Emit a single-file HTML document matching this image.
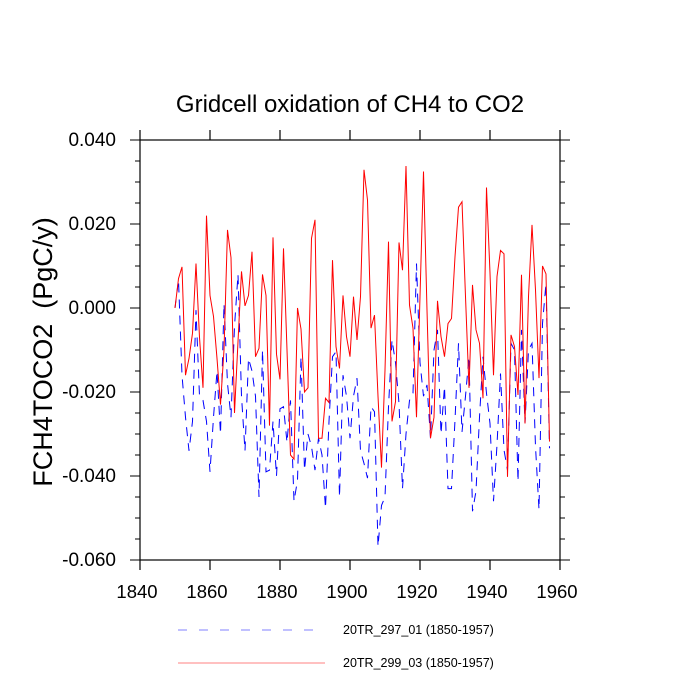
<!DOCTYPE html>
<html><head><meta charset="utf-8"><style>
body{margin:0;background:#fff;}
svg{display:block;font-family:"Liberation Sans",sans-serif;}
</style></head><body>
<svg id="chart" width="700" height="700" xmlns="http://www.w3.org/2000/svg">
<text x="350" y="112" font-size="24" text-anchor="middle">Gridcell oxidation of CH4 to CO2</text>
<text transform="translate(52,352) rotate(-90)" font-size="27" text-anchor="middle" style="white-space:pre">FCH4TOCO2  (PgC/y)</text>
<g id="axes"></g>
<g id="series"></g>
<g>
<line x1="178" y1="630" x2="318" y2="630" stroke="#8080ff" stroke-width="1" stroke-dasharray="9,12"/>
<text x="343" y="634" font-size="12.5">20TR_297_01 (1850-1957)</text>
<line x1="178" y1="663" x2="325" y2="663" stroke="#ff8080" stroke-width="1"/>
<text x="343" y="667" font-size="12.5">20TR_299_03 (1850-1957)</text>
</g>
</svg>
<script>
const startYear = 1850;
const seriesRed = [0,0.007,0.0098,-0.016,-0.012,-0.006,0.0106,-0.007,-0.019,0.022,0.003,-0.002,-0.012,-0.023,-0.01,0.0186,0.012,-0.025,-0.008,0.0087,0.0005,0.003,0.0134,-0.0116,-0.0096,0.008,0.003,-0.028,0.0168,-0.011,-0.017,0.0142,-0.01,-0.035,-0.036,0,-0.005,-0.02,-0.019,0.0166,0.021,-0.031,-0.031,-0.0215,-0.0225,0.0114,-0.0092,-0.0144,0.003,-0.0068,-0.0116,0.0027,-0.0076,0.0027,0.0329,0.0257,-0.0048,-0.0017,-0.021,-0.038,-0.0148,0.0158,-0.027,-0.0223,0.0156,0.009,0.0338,0.0007,-0.0048,-0.026,0.0027,0.0325,-0.0005,-0.031,-0.026,0.0017,-0.0068,-0.0116,-0.0037,-0.0025,0.0122,0.024,0.0253,0.0027,-0.019,0.0055,-0.0052,-0.0084,-0.0215,0.0287,0.0083,-0.016,0.0075,0.0137,0.0129,-0.0402,-0.0064,-0.0092,-0.0207,0.0079,-0.0275,0.0027,0.0198,0.0043,-0.0167,0.01,0.0081,-0.0318];
const seriesBlue = [0,0.0067,-0.016,-0.026,-0.034,-0.027,-0.0005,-0.021,-0.022,-0.027,-0.039,-0.026,-0.015,-0.03,0.001,-0.018,-0.026,-0.0044,0.008,-0.021,-0.034,-0.012,-0.015,-0.021,-0.045,-0.01,-0.039,-0.0386,-0.027,-0.04,-0.024,-0.0235,-0.032,-0.022,-0.046,-0.041,-0.0116,-0.0386,-0.03,-0.033,-0.0386,-0.031,-0.035,-0.0477,-0.027,-0.0116,-0.0104,-0.045,-0.016,-0.021,-0.031,-0.021,-0.0167,-0.034,-0.037,-0.0405,-0.0235,-0.0247,-0.0568,-0.047,-0.045,-0.0235,-0.0076,-0.013,-0.0227,-0.043,-0.03,-0.022,-0.0203,0.0106,-0.013,-0.021,-0.0183,-0.031,-0.01,-0.0052,-0.03,-0.0187,-0.043,-0.043,-0.0267,-0.0084,-0.0295,-0.021,-0.0116,-0.0484,-0.0436,-0.026,-0.0116,-0.0203,-0.0275,-0.046,-0.0326,-0.0156,-0.0338,-0.0386,-0.0084,-0.01,-0.0413,-0.0052,-0.0275,-0.01,-0.0084,-0.033,-0.048,-0.0037,0.0059,-0.0334];
const xTicks = [1840,1860,1880,1900,1920,1940,1960];
const yTicks = [0.04,0.02,0,-0.02,-0.04,-0.06];
const yTickLabels = ["0.040","0.020","0.000","-0.020","-0.040","-0.060"];

const L=140,R=560,T=140,B=560;
const xMin=1840,xMax=1960,yMin=-0.06,yMax=0.04;
function sx(v){return L+(v-xMin)/(xMax-xMin)*(R-L);}
function sy(v){return B-(v-yMin)/(yMax-yMin)*(B-T);}
const NS="http://www.w3.org/2000/svg";
function mk(tag,attrs,parent){const e=document.createElementNS(NS,tag);for(const k in attrs)e.setAttribute(k,attrs[k]);parent.appendChild(e);return e;}
const axes=document.getElementById('axes');
const frame=mk('rect',{x:L,y:T,width:R-L,height:B-T,fill:'none',stroke:'#000','stroke-width':1.2},axes);


xTicks.forEach(function(t){
  const x=sx(t);
  mk('line',{x1:x,y1:B,x2:x,y2:B+10,stroke:'#000','stroke-width':1.2},axes);
  mk('line',{x1:x,y1:T,x2:x,y2:T-10,stroke:'#000','stroke-width':1.2},axes);
  const tx=mk('text',{x:x-3,y:B+38,'font-size':18.5,'text-anchor':'middle'},axes);
  tx.textContent=t;
  
  
});
for(let v=yMin;v<=yMax+1e-9;v+=0.005){
  const y=sy(v);
  const major=Math.abs(Math.round(v/0.02)*0.02-v)<1e-9;
  const len=major?10:5;
  mk('line',{x1:L,y1:y,x2:L-len,y2:y,stroke:'#000','stroke-width':1},axes);
  mk('line',{x1:R,y1:y,x2:R+len,y2:y,stroke:'#000','stroke-width':1},axes);
}
yTicks.forEach(function(t,i){
  const ty=mk('text',{x:116,y:sy(t)+6,'font-size':19,'text-anchor':'end'},axes);
  ty.textContent=yTickLabels[i];
  
  
});
const sg=document.getElementById('series');
function pts(arr){return arr.map(function(v,i){return sx(startYear+i).toFixed(2)+','+sy(v).toFixed(2);}).join(' ');}
const lb=mk('polyline',{points:pts(seriesBlue),fill:'none',stroke:'#0000ff','stroke-width':1,'stroke-dasharray':'9,7'},sg);


const lr=mk('polyline',{points:pts(seriesRed),fill:'none',stroke:'#ff0000','stroke-width':1},sg);


</script>
</body></html>
